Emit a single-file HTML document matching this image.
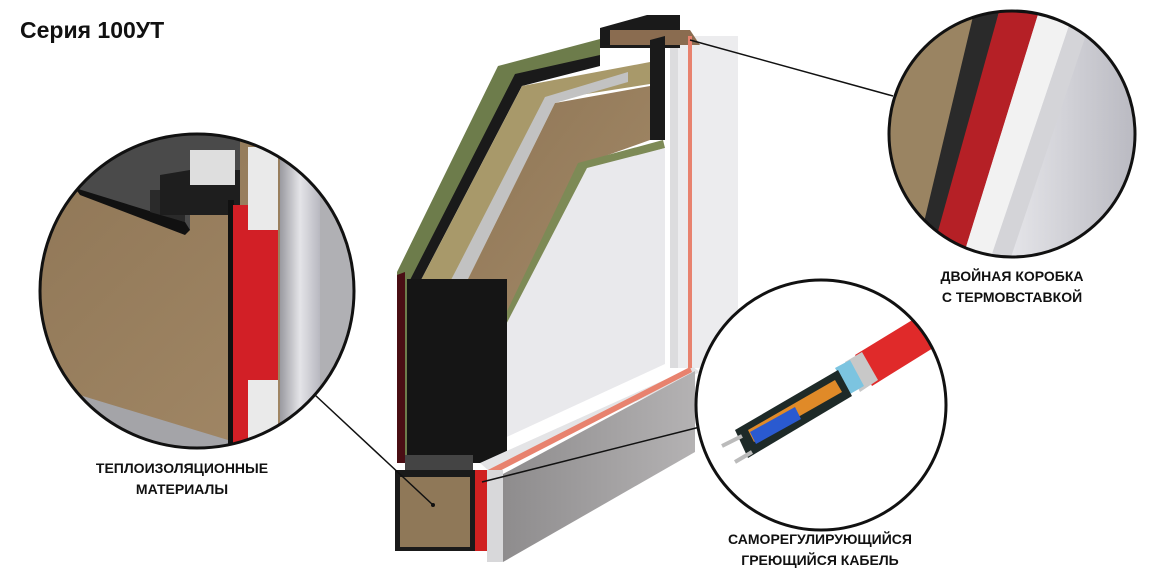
<!DOCTYPE html>
<html><head><meta charset="utf-8"><style>
html,body{margin:0;padding:0;background:#fff;}
svg{display:block;}
text{font-family:"Liberation Sans",sans-serif;}
</style></head><body>
<svg width="1152" height="576" viewBox="0 0 1152 576" xmlns="http://www.w3.org/2000/svg">
<defs>
<clipPath id="cl"><circle cx="197" cy="291" r="157"/></clipPath>
<clipPath id="ct"><circle cx="1012" cy="134" r="123"/></clipPath>
<clipPath id="cb"><circle cx="821" cy="405" r="125"/></clipPath>
<linearGradient id="foil" x1="0" x2="1"><stop offset="0" stop-color="#9a9aa0"/><stop offset="0.5" stop-color="#e4e4e8"/><stop offset="1" stop-color="#b8b8c0"/></linearGradient>
<linearGradient id="wool" x1="0" y1="0" x2="1" y2="1"><stop offset="0" stop-color="#8f7656"/><stop offset="1" stop-color="#a48a68"/></linearGradient>
<linearGradient id="gray" x1="0" x2="1"><stop offset="0" stop-color="#8e8c8d"/><stop offset="1" stop-color="#b4b2b3"/></linearGradient>
</defs>

<text x="20" y="38" font-size="23" font-weight="bold" fill="#111">Серия 100УТ</text>

<!-- door -->
<polygon points="670,36 738,36 738,368 670,368" fill="#ececee"/>
<rect x="670" y="36" width="8" height="332" fill="#dcdcde"/>
<polygon points="600,28 647,15 680,15 680,48 600,48" fill="#1a1a1a"/>
<polygon points="610,30 690,30 700,45 610,45" fill="#8a6c50"/>
<polygon points="397,272 498,66 600,39 600,60 520,80 414,280 414,463 397,463" fill="#6d7c4b"/>
<polygon points="397,275 405,272 405,463 397,463" fill="#4a0e14"/>
<polygon points="410,280 515,74 600,55 600,66 522,86 420,282" fill="#1a1a1a"/>
<polygon points="420,282 522,86 650,62 650,84 548,100 450,282" fill="#a8996a"/>
<polygon points="450,282 545,97 628,72 628,82 555,103 465,285" fill="#c2c2c2"/>
<polygon points="465,285 555,103 650,86 650,140 580,165 505,330 495,285" fill="url(#wool)"/>
<polygon points="665,36 665,140 650,140 650,40" fill="#1a1a1a"/>
<polygon points="663,140 665,148 588,170 505,342 498,340 498,330 578,163" fill="#7d8a56"/>
<polygon points="498,340 587,168 665,148 665,364 498,441" fill="#e9e9ec"/>
<polygon points="407,279 507,279 507,463 407,463" fill="#151515"/>
<polygon points="480,463 693,367 700,372 488,470" fill="#e4e4e6"/>
<polygon points="503,474 695,371 695,452 503,562" fill="url(#gray)"/>
<rect x="688" y="36" width="4" height="332" fill="#e8826e"/>
<polygon points="480,474 690,367 692,372 482,480" fill="#e8826e"/>
<rect x="405" y="455" width="68" height="18" fill="#444"/>
<rect x="395" y="470" width="80" height="81" fill="#1a1a1a"/>
<rect x="400" y="477" width="70" height="70" fill="#8f7858"/>
<rect x="475" y="470" width="12" height="81" fill="#d02020"/>
<rect x="487" y="470" width="16" height="92" fill="#d8d8da"/>

<!-- connector lines -->
<line x1="315" y1="395" x2="433" y2="505" stroke="#111" stroke-width="1.5"/>
<circle cx="433" cy="505" r="2" fill="#111"/>
<line x1="690" y1="40" x2="893" y2="96" stroke="#111" stroke-width="1.5"/>
<line x1="482" y1="482" x2="700" y2="427" stroke="#111" stroke-width="1.5"/>

<!-- left circle -->
<g clip-path="url(#cl)">
<rect x="30" y="130" width="340" height="330" fill="url(#wool)"/>
<polygon points="30,130 240,130 240,190 190,190 190,230 80,190 30,185" fill="#4a4a4a"/>
<polygon points="75,188 185,222 190,230 185,235 80,195" fill="#111"/>
<polygon points="150,190 185,190 185,222 150,212" fill="#2a2a2a"/>
<polygon points="160,175 190,170 190,215 160,215" fill="#1e1e1e"/>
<polygon points="190,170 240,170 240,215 190,215" fill="#1e1e1e"/>
<rect x="190" y="150" width="45" height="35" fill="#dedede"/>
<rect x="228" y="200" width="6" height="260" fill="#111"/>
<rect x="233" y="205" width="45" height="250" fill="#d21f26"/>
<rect x="248" y="147" width="30" height="83" fill="#eaeaea"/>
<rect x="248" y="380" width="30" height="80" fill="#eaeaea"/>
<rect x="280" y="150" width="40" height="310" fill="url(#foil)"/>
<rect x="320" y="150" width="50" height="310" fill="#b0b0b4"/>
<polygon points="30,380 228,440 228,460 30,460" fill="#a4a4a8"/>
</g>
<circle cx="197" cy="291" r="157" fill="none" stroke="#111" stroke-width="3"/>

<!-- top right circle -->
<g clip-path="url(#ct)">
<rect x="885" y="8" width="255" height="255" fill="url(#foil)"/>
<polygon points="885,8 985,8 925,260 885,260" fill="#9a8462"/>
<polygon points="975,8 1000,8 938,260 915,260" fill="#2a2a2a"/>
<polygon points="1000,8 1040,8 962,260 930,260" fill="#b52026"/>
<polygon points="1040,8 1075,8 990,260 962,260" fill="#f2f2f2"/>
<polygon points="1075,8 1095,8 1010,260 990,260" fill="#d4d4d8"/>
</g>
<circle cx="1012" cy="134" r="123" fill="none" stroke="#111" stroke-width="3"/>

<!-- bottom right circle -->
<circle cx="821" cy="405" r="125" fill="#fff"/>
<g clip-path="url(#cb)">
<polygon points="855,355 945,300 962,330 872,386" fill="#e02a2a"/>
<polygon points="845,362 862,352 878,380 860,392" fill="#c8c8c8"/>
<polygon points="835,368 850,360 864,386 850,394" fill="#7cc4e0"/>
<polygon points="735,430 838,370 852,396 748,458" fill="#1e2a28"/>
<polygon points="748,430 835,380 842,392 754,442" fill="#e08a28"/>
<polygon points="750,432 795,407 801,419 756,444" fill="#2a5ad0"/>
<line x1="722" y1="446" x2="742" y2="436" stroke="#bbb" stroke-width="4"/>
<line x1="735" y1="462" x2="752" y2="452" stroke="#bbb" stroke-width="4"/>
</g>
<circle cx="821" cy="405" r="125" fill="none" stroke="#111" stroke-width="3"/>

<!-- labels -->
<g font-size="14" font-weight="bold" fill="#111" text-anchor="middle">
<text x="182" y="473">ТЕПЛОИЗОЛЯЦИОННЫЕ</text>
<text x="182" y="494">МАТЕРИАЛЫ</text>
<text x="1012" y="281">ДВОЙНАЯ КОРОБКА</text>
<text x="1012" y="302">С ТЕРМОВСТАВКОЙ</text>
<text x="820" y="544">САМОРЕГУЛИРУЮЩИЙСЯ</text>
<text x="820" y="565">ГРЕЮЩИЙСЯ КАБЕЛЬ</text>
</g>
</svg>
</body></html>
